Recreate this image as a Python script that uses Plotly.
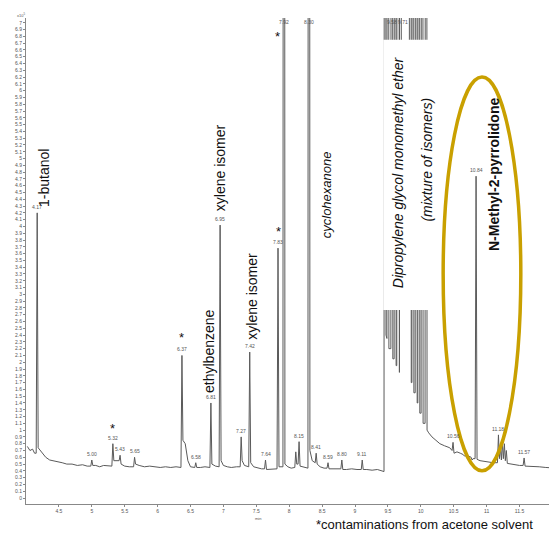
import plotly.graph_objects as go

# ---------------- data ----------------
# baseline / valley points between peaks: retention time (min), abundance (x10^5)
noise_rt = [4.02, 4.06, 4.10, 4.13, 4.22, 4.26, 4.30, 4.36, 4.42, 4.48, 4.55, 4.62, 4.70, 4.78,
            4.86, 4.93, 5.06, 5.12, 5.18, 5.24, 5.50, 5.57, 5.72, 5.80, 5.88, 5.96, 6.04, 6.12,
            6.20, 6.28, 6.42, 6.46, 6.50, 6.65, 6.72, 6.88, 7.00, 7.06, 7.12, 7.20, 7.32, 7.46,
            7.52, 7.58, 7.70, 7.76, 7.98, 8.03, 8.20, 8.35, 8.47, 8.53, 8.65, 8.72, 8.87, 8.95,
            9.03, 9.18, 9.26, 9.34, 9.42, 9.76, 10.12, 10.17, 10.23, 10.29, 10.36, 10.44, 10.55,
            10.60, 10.72, 10.90, 10.96, 11.04, 11.10, 11.36, 11.42, 11.50, 11.64, 11.72, 11.80,
            11.90, 12.00, 12.07]
noise_val = [0.76, 0.70, 0.72, 0.66, 0.70, 0.66, 0.60, 0.56, 0.55, 0.53, 0.52, 0.50, 0.50, 0.48,
             0.49, 0.47, 0.48, 0.46, 0.48, 0.47, 0.47, 0.46, 0.48, 0.46, 0.47, 0.46, 0.45, 0.46,
             0.45, 0.46, 0.80, 0.55, 0.46, 0.45, 0.46, 0.47, 0.48, 0.46, 0.45, 0.46, 0.48, 0.46,
             0.44, 0.43, 0.42, 0.43, 0.46, 0.44, 0.46, 0.55, 0.46, 0.44, 0.43, 0.43, 0.42, 0.43,
             0.42, 0.42, 0.41, 0.42, 0.39, 3.60, 0.96, 0.90, 0.85, 0.80, 0.77, 0.74, 0.68,
             0.66, 0.62, 0.55, 0.54, 0.53, 0.52, 0.50, 0.49, 0.48, 0.47, 0.46, 0.46,
             0.45, 0.44, 0.44]

# peaks: retention time, apex, left foot, right foot (apex > 7 = off scale)
peak_rt = [4.17, 5.00, 5.32, 5.43, 5.65, 6.37, 6.58, 6.81, 6.95, 7.27, 7.40, 7.64, 7.83, 7.92,
           8.10, 8.15, 8.30, 8.41, 8.59, 8.80, 9.11,
           9.456, 9.50, 9.56, 9.61, 9.65, 9.69, 9.84, 9.88, 9.93, 9.97, 10.02, 10.08,
           10.49, 10.66, 10.78, 10.84, 11.18, 11.21, 11.24, 11.27, 11.30, 11.57]
peak_apex = [4.20, 0.56, 0.80, 0.63, 0.60, 2.10, 0.52, 1.40, 4.02, 0.90, 2.15, 0.56, 3.68, 40,
             0.68, 0.83, 40, 0.66, 0.52, 0.56, 0.56,
             40, 40, 40, 40, 40, 40, 40, 40, 40, 40, 40, 40,
             0.82, 0.62, 0.56, 4.74, 0.93, 0.75, 0.82, 0.80, 0.70, 0.59]
peak_left = [0.66, 0.47, 0.47, 0.55, 0.46, 0.45, 0.45, 0.45, 0.46, 0.46, 0.46, 0.43, 0.43, 0.46,
             0.45, 0.50, 0.44, 0.52, 0.44, 0.43, 0.42,
             0.39, 2.35, 2.20, 2.05, 1.95, 1.85, 3.50, 1.70, 1.55, 1.40, 1.25, 1.10,
             0.70, 0.64, 0.60, 0.58, 0.52, 0.58, 0.56, 0.58, 0.55, 0.48]
peak_right = [0.74, 0.48, 0.55, 0.50, 0.50, 0.85, 0.45, 0.50, 0.55, 0.55, 0.52, 0.42, 0.46, 0.50,
              0.50, 0.47, 0.70, 0.50, 0.43, 0.42, 0.42,
              2.40, 2.20, 2.05, 1.95, 1.85, 3.50, 1.70, 1.55, 1.40, 1.25, 1.10, 1.00,
              0.66, 0.62, 0.58, 0.57, 0.58, 0.56, 0.58, 0.55, 0.51, 0.47]

# labelled peaks: position, printed label
label_rt = [4.17, 5.00, 5.32, 5.43, 5.65, 6.37, 6.58, 6.81, 6.95, 7.27, 7.40, 7.64, 7.83, 7.92,
            8.15, 8.30, 8.41, 8.59, 8.80, 9.11, 9.565, 9.735, 10.49, 10.84, 11.18, 11.57]
label_val = [4.20, 0.56, 0.80, 0.63, 0.60, 2.10, 0.52, 1.40, 4.02, 0.90, 2.15, 0.56, 3.68, 6.93,
             0.83, 6.93, 0.66, 0.52, 0.56, 0.56, 6.93, 6.93, 0.82, 4.74, 0.93, 0.59]
label_txt = ["4.17", "5.00", "5.32", "5.43", "5.65", "6.37", "6.58", "6.81", "6.95", "7.27",
             "7.42", "7.64", "7.83", "7.92", "8.15", "8.30", "8.41", "8.59", "8.80", "9.11",
             "9.58", "9.71", "10.56", "10.84", "11.18", "11.57"]

# y ticks (x10^5) and x ticks (min)
ytick_vals = [round(i * 0.1, 1) for i in range(0, 71)]
ytick_text = [("%g" % v) for v in ytick_vals]
xtick_vals = [4.5, 5, 5.5, 6, 6.5, 7, 7.5, 8, 8.5, 9, 9.5, 10, 10.5, 11, 11.5, 12]
xtick_text = ["4.5", "5", "5.5", "6", "6.5", "7", "7.5", "8", "8.5", "9", "9.5", "10",
              "10.5", "11", "11.5", "12"]

# ---------------- build trace ----------------
HW = 0.015
pts = list(zip(noise_rt, noise_val))
for rt, ap, lf, rf in zip(peak_rt, peak_apex, peak_left, peak_right):
    pts += [(rt - HW, lf), (rt, ap), (rt + HW, rf)]
pts.sort(key=lambda p: p[0])
xs = [p[0] for p in pts]
ys = [p[1] for p in pts]

fig = go.Figure()
fig.add_trace(go.Scatter(x=xs, y=ys, mode="lines",
                         line=dict(color="#5a5a5a", width=1), showlegend=False,
                         hoverinfo="skip"))

FONT = "Liberation Sans, Arial, sans-serif"
ann = []
for rt, v, t in zip(label_rt, label_val, label_txt):
    ann.append(dict(x=rt, y=v, text=t, showarrow=False, yanchor="bottom", yshift=1,
                    font=dict(size=5, color="#555", family=FONT)))

def rot(x, y, text, size=14, color="#111"):
    return dict(x=x, y=y, text=text, textangle=-90, showarrow=False, xanchor="center",
                yanchor="middle", font=dict(size=size, color=color, family=FONT))

ann += [
    rot(4.27, 4.71, "1-butanol"),
    rot(6.96, 4.87, "xylene isomer"),
    rot(6.77, 2.17, "ethylbenzene"),
    rot(7.44, 2.97, "xylene isomer"),
    rot(8.56, 4.46, "<i>cyclohexanone</i>", size=13),
    rot(9.655, 4.80, "<i>Dipropylene glycol monomethyl ether</i>"),
    rot(10.09, 4.98, "<i>(mixture of isomers)</i>"),
    rot(11.11, 4.77, "<b>N-Methyl-2-pyrrolidone</b>"),
]
for x, y in [(5.32, 1.03), (6.37, 2.36), (7.83, 3.92), (7.815, 6.80)]:
    ann.append(dict(x=x, y=y, text="*", showarrow=False,
                    font=dict(size=13, color="#111", family=FONT)))
ann.append(dict(xref="paper", yref="paper", x=0.542, y=-0.043, xanchor="left", yanchor="middle",
                text="*contaminations from acetone solvent", showarrow=False,
                font=dict(size=13, color="#111", family=FONT)))
ann.append(dict(xref="x", yref="paper", x=7.53, y=-0.030, yanchor="middle", text="min",
                showarrow=False, font=dict(size=4, color="#555", family=FONT)))
ann.append(dict(xref="paper", yref="paper", x=-0.02, y=1.016, text="x10<sup>5</sup>",
                showarrow=False, font=dict(size=4, color="#555", family=FONT)))

shapes = [
    # white boxes behind the isomer-mixture labels (mask the clipped peaks)
    dict(type="rect", xref="x", yref="y", x0=9.43, x1=10.12, y0=2.77, y1=6.75,
         fillcolor="white", line=dict(width=0), layer="above"),
    # highlight ellipse around NMP
    dict(type="circle", xref="x", yref="y", x0=10.34, x1=11.52, y0=0.40, y1=6.20,
         line=dict(color="#C9A000", width=3.5), layer="above"),
]

# the page body adds an 8px margin on every side, so the figure is shrunk to fit the window
fig.update_layout(
    width=549, height=521, margin=dict(l=18, r=0, t=10, b=25, autoexpand=False),
    paper_bgcolor="white", plot_bgcolor="white",
    annotations=ann, shapes=shapes, showlegend=False,
    xaxis=dict(range=[4.0, 12.07], tickvals=xtick_vals, ticktext=xtick_text, automargin=False,
               showgrid=False, zeroline=False, showline=True, linecolor="#888", linewidth=1,
               ticks="outside", ticklen=2, tickcolor="#888", ticklabeloverflow="allow",
               tickfont=dict(size=5, color="#555", family=FONT)),
    yaxis=dict(range=[-0.088, 7.07], tickvals=ytick_vals, ticktext=ytick_text, automargin=False,
               showgrid=False, zeroline=False, showline=True, linecolor="#888", linewidth=1,
               ticks="outside", ticklen=2, tickcolor="#888",
               tickfont=dict(size=5, color="#555", family=FONT)),
)

fig.write_html("out.html")
